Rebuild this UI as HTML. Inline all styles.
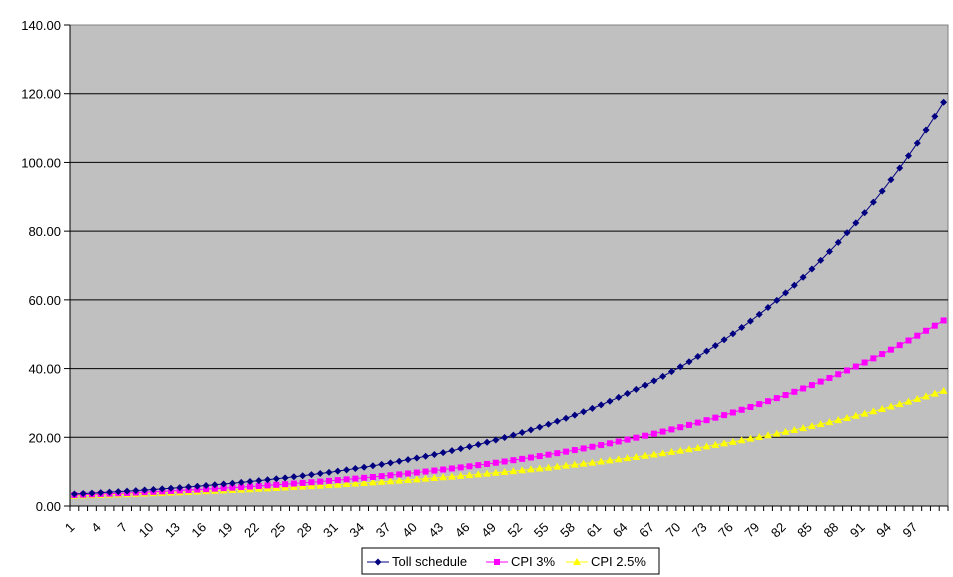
<!DOCTYPE html>
<html><head><meta charset="utf-8"><style>
html,body{margin:0;padding:0;background:#fff}
svg{display:block;font-family:"Liberation Sans",Arial,sans-serif}
</style></head><body>
<svg id="s" width="953" height="577" xmlns="http://www.w3.org/2000/svg"></svg>
<script>
var s=document.getElementById('s'),h='';
var L=70,R=948,T=25,B=506,N=100,cw=(R-L)/N,py=(B-T)/140;
h+='<rect x="'+L+'" y="'+T+'" width="'+(R-L)+'" height="'+(B-T)+'" fill="#c0c0c0" stroke="#808080"/>';
for(var v=0;v<=140;v+=20){var y=B-v*py;
 if(v>0&&v<140)h+='<line x1="'+L+'" x2="'+R+'" y1="'+y+'" y2="'+y+'" stroke="#000" stroke-width="1"/>';
 h+='<line x1="'+(L-6)+'" x2="'+L+'" y1="'+y+'" y2="'+y+'" stroke="#000"/>';
 h+='<text x="'+(L-9)+'" y="'+(y+5)+'" font-size="13" text-anchor="end">'+v.toFixed(2)+'</text>';}
h+='<line x1="'+L+'" x2="'+L+'" y1="'+T+'" y2="'+B+'" stroke="#000"/>';
h+='<line x1="'+L+'" x2="'+R+'" y1="'+B+'" y2="'+B+'" stroke="#000"/>';
for(var i=0;i<=N;i++){var x=L+i*cw;h+='<line x1="'+x+'" x2="'+x+'" y1="'+B+'" y2="'+(B+5)+'" stroke="#000"/>';}
for(var i=1;i<=97;i+=3){var x=L+(i-0.5)*cw+1,y=B+22;
 h+='<text font-size="13" text-anchor="end" transform="translate('+x+','+y+') rotate(-45)">'+i+'</text>';}
function ser(a,b,col,mk){var pts=[],r=Math.pow(b/a,1/99);
 for(var i=0;i<N;i++)pts.push([L+(i+0.5)*cw,B-a*Math.pow(r,i)*py]);
 h+='<polyline fill="none" stroke="'+col+'" stroke-width="1" points="'+pts.map(p=>p.join(',')).join(' ')+'"/>';
 pts.forEach(p=>h+=mk(p[0],p[1]));}
var dia=(c)=>(x,y)=>'<polygon points="'+x+','+(y-3.5)+' '+(x+3.5)+','+y+' '+x+','+(y+3.5)+' '+(x-3.5)+','+y+'" fill="'+c+'"/>';
var sq=(c)=>(x,y)=>'<rect x="'+(x-3)+'" y="'+(y-3)+'" width="6" height="6" fill="'+c+'"/>';
var tri=(c)=>(x,y)=>'<polygon points="'+x+','+(y-4)+' '+(x+4)+','+(y+3)+' '+(x-4)+','+(y+3)+'" fill="'+c+'"/>';
ser(3,33.5,'#ffff00',tri('#ffff00'));
ser(3.2,54,'#ff00ff',sq('#ff00ff'));
ser(3.5,117.5,'#000080',dia('#000080'));
h+='<rect x="362" y="548" width="297" height="26" fill="#fff" stroke="#000"/>';
var items=[[367,'#000080',dia,'Toll schedule'],[486,'#ff00ff',sq,'CPI 3%'],[566,'#ffff00',tri,'CPI 2.5%']];
items.forEach(t=>{h+='<line x1="'+t[0]+'" x2="'+(t[0]+22)+'" y1="562" y2="562" stroke="'+t[1]+'"/>'+t[2](t[1])(t[0]+11,562)+'<text x="'+(t[0]+25)+'" y="566" font-size="13">'+t[3]+'</text>';});
s.innerHTML=h;
</script>
</body></html>
